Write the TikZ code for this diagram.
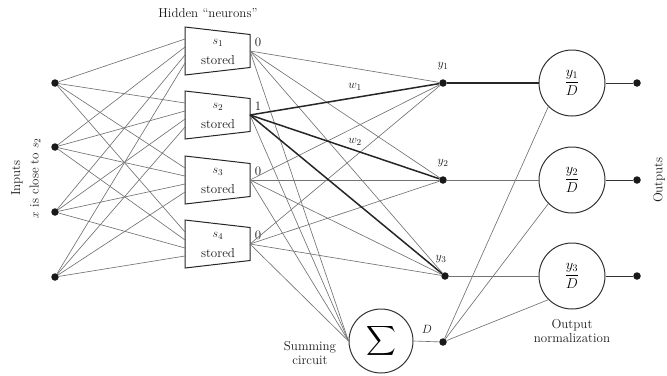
\documentclass[tikz,border=0pt]{standalone}
\usepackage{amsmath}
\usetikzlibrary{calc}
\begin{document}
\begin{tikzpicture}[x=1bp,y=-1bp,
  font=\fontsize{13}{15}\selectfont,
  thinwire/.style={draw=black!55, line width=0.65bp},
  heavywire/.style={draw=black!85, line width=1.5bp},
  midwire/.style={draw=black!80, line width=1bp},
  dot/.style={circle, fill=black!90, inner sep=0pt, minimum size=7.5bp},
  unitcircle/.style={circle, draw=black!80, line width=1bp, minimum size=66bp, inner sep=0pt},
  neuronbox/.style={draw=black!85, line width=1bp},
  lbl/.style={text=black!90, inner sep=1bp}]
\useasboundingbox (0,0) rectangle (667,375);

% input terminals
\foreach \i/\yy in {1/83,2/147,3/212,4/277}
  \node[dot] (in\i) at (55,\yy) {};

% output layer nodes
\node[dot] (y1) at (443,83) {};
\node[dot] (y2) at (443,180) {};
\node[dot] (y3) at (445,276) {};
\node[dot] (dd) at (443,342) {};
\node[lbl] (ly1) at (443,66) {$y_1$};
\node[lbl] (ly2) at (443,163) {$y_2$};
\node[lbl] (ly3) at (441,259) {$y_3$};
\node[lbl] (ld) at (427,329) {$D$};

% summing circuit
\node[unitcircle, minimum size=64bp] (sum) at (381,341) {\fontsize{20}{20}\selectfont$\displaystyle\sum$};

% normalisation units and outputs
\foreach \k/\yy in {1/83,2/180,3/276} {
  \node[unitcircle] (n\k) at (572,\yy) {\fontsize{14}{16}\selectfont$\dfrac{y_\k}{D}$};
  \node[dot] (out\k) at (637,\yy) {};
  \draw[midwire] (n\k.east) -- (out\k);
  \draw[thinwire] (dd) -- (n\k.225);
}
\draw[heavywire] (y1) -- (n1.west);
\draw[thinwire] (y2) -- (n2.west);
\draw[thinwire] (y3) -- (n3.west);
\draw[thinwire] (sum.east) -- (dd);

% hidden "neurons" (stored patterns)
\foreach \j/\c/\v in {1/51/0,2/115/1,3/180/0,4/244/0} {
  \coordinate (h\j) at (250,\c);
  \draw[neuronbox] (185,\c-24) -- (250,\c-16.5) -- (250,\c+16.5) -- (185,\c+24) -- cycle;
  \node[lbl] (s\j) at (218,\c-8) {$s_\j$};
  \node[lbl] (st\j) at (218,\c+9) {stored};
  \node[lbl] (o\j) at (258,\c-9) {\v};
  \foreach \i in {1,2,3,4} {
    \coordinate (h\j in\i) at (185,\c+\i*8-20);
    \draw[thinwire] (in\i) -- (h\j in\i);
  }
  \draw[thinwire] (h\j) -- (sum.west);
}

% hidden to output weights
\foreach \j in {1,3,4}
  \foreach \k in {1,2,3}
    \draw[thinwire] (h\j) -- (y\k);
\foreach \k in {1,2,3}
  \draw[heavywire] (h2) -- (y\k);
\node[lbl] (w1) at (355,87) {$w_1$};
\node[lbl] (w2) at (355,142) {$w_2$};

% captions
\node[lbl] (hid) at (208,13) {Hidden ``neurons''};
\node[lbl, align=center] (summ) at (310,353) {Summing\\circuit};
\node[lbl, align=center] (norm) at (572,331) {Output\\normalization};
\node[lbl, rotate=90] (inp) at (17,178) {Inputs};
\node[lbl, rotate=90] (inx) at (35,178) {$x$ is close to $s_2$};
\node[lbl, rotate=90] (outs) at (659,180) {Outputs};
\end{tikzpicture}
\end{document}
